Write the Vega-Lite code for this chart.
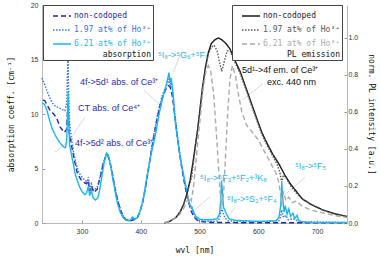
{
"$schema": "https://vega.github.io/schema/vega-lite/v6.json",
"width": 305, "height": 218,
"autosize": "none",
"padding": {"left": 42, "top": 5, "right": 33, "bottom": 33},
"background": "white",
"config": {
 "view": {"stroke": null},
 "axis": {"grid": false, "labelFont": "Liberation Sans", "labelFontSize": 7, "labelColor": "#333", "titleFont": "DejaVu Sans Mono", "titleFontSize": 8, "titleFontWeight": "normal", "titleColor": "#111", "domainColor": "#bbb", "tickColor": "#999", "tickSize": -3},
 "legend": {"labelFont": "DejaVu Sans Mono", "labelFontSize": 8, "titleFont": "DejaVu Sans Mono", "titleFontSize": 8, "titleFontWeight": "normal", "titleColor": "#111"}
},
"datasets": {
 "abs": [
  {"s":"non-codoped","wvl":234,"v":11.3},{"s":"non-codoped","wvl":237,"v":11.2},{"s":"non-codoped","wvl":241,"v":10.8},{"s":"non-codoped","wvl":246,"v":10.3},{"s":"non-codoped","wvl":252,"v":10.0},{"s":"non-codoped","wvl":257,"v":9.6},{"s":"non-codoped","wvl":263,"v":8.8},{"s":"non-codoped","wvl":270,"v":8.3},{"s":"non-codoped","wvl":274,"v":8.6},{"s":"non-codoped","wvl":276,"v":11.0},{"s":"non-codoped","wvl":278,"v":8.4},{"s":"non-codoped","wvl":282,"v":7.2},{"s":"non-codoped","wvl":287,"v":5.8},{"s":"non-codoped","wvl":292,"v":4.6},{"s":"non-codoped","wvl":298,"v":4.0},{"s":"non-codoped","wvl":304,"v":3.7},{"s":"non-codoped","wvl":308,"v":3.6},{"s":"non-codoped","wvl":311,"v":3.9},{"s":"non-codoped","wvl":313,"v":2.9},{"s":"non-codoped","wvl":316,"v":3.4},{"s":"non-codoped","wvl":320,"v":2.8},{"s":"non-codoped","wvl":326,"v":3.1},{"s":"non-codoped","wvl":331,"v":4.2},{"s":"non-codoped","wvl":336,"v":5.4},{"s":"non-codoped","wvl":341,"v":6.2},{"s":"non-codoped","wvl":344,"v":6.2},{"s":"non-codoped","wvl":348,"v":5.5},{"s":"non-codoped","wvl":352,"v":4.4},{"s":"non-codoped","wvl":356,"v":3.2},{"s":"non-codoped","wvl":361,"v":2.0},{"s":"non-codoped","wvl":366,"v":1.1},{"s":"non-codoped","wvl":371,"v":0.5},{"s":"non-codoped","wvl":376,"v":0.25},{"s":"non-codoped","wvl":382,"v":0.2},{"s":"non-codoped","wvl":388,"v":0.3},{"s":"non-codoped","wvl":393,"v":0.4},{"s":"non-codoped","wvl":398,"v":0.9},{"s":"non-codoped","wvl":403,"v":1.8},{"s":"non-codoped","wvl":408,"v":3.2},{"s":"non-codoped","wvl":413,"v":4.9},{"s":"non-codoped","wvl":418,"v":6.6},{"s":"non-codoped","wvl":423,"v":8.2},{"s":"non-codoped","wvl":428,"v":9.6},{"s":"non-codoped","wvl":433,"v":10.8},{"s":"non-codoped","wvl":438,"v":11.7},{"s":"non-codoped","wvl":443,"v":12.3},{"s":"non-codoped","wvl":447,"v":12.6},{"s":"non-codoped","wvl":450,"v":12.5},{"s":"non-codoped","wvl":454,"v":11.6},{"s":"non-codoped","wvl":458,"v":9.8},{"s":"non-codoped","wvl":462,"v":8.0},{"s":"non-codoped","wvl":466,"v":6.4},{"s":"non-codoped","wvl":470,"v":5.0},{"s":"non-codoped","wvl":475,"v":3.5},{"s":"non-codoped","wvl":480,"v":2.2},{"s":"non-codoped","wvl":485,"v":1.2},{"s":"non-codoped","wvl":490,"v":0.6},{"s":"non-codoped","wvl":495,"v":0.3},{"s":"non-codoped","wvl":500,"v":0.15},{"s":"non-codoped","wvl":520,"v":0.05},{"s":"non-codoped","wvl":560,"v":0.03},{"s":"non-codoped","wvl":751,"v":0.02},
  {"s":"1.97 at% of Ho³⁺","wvl":232,"v":13.3},{"s":"1.97 at% of Ho³⁺","wvl":236,"v":12.8},{"s":"1.97 at% of Ho³⁺","wvl":240,"v":12.2},{"s":"1.97 at% of Ho³⁺","wvl":245,"v":11.5},{"s":"1.97 at% of Ho³⁺","wvl":250,"v":11.0},{"s":"1.97 at% of Ho³⁺","wvl":255,"v":10.7},{"s":"1.97 at% of Ho³⁺","wvl":260,"v":10.6},{"s":"1.97 at% of Ho³⁺","wvl":266,"v":10.4},{"s":"1.97 at% of Ho³⁺","wvl":271,"v":10.3},{"s":"1.97 at% of Ho³⁺","wvl":274,"v":11.0},{"s":"1.97 at% of Ho³⁺","wvl":275.5,"v":14.0},{"s":"1.97 at% of Ho³⁺","wvl":276.3,"v":15.6},{"s":"1.97 at% of Ho³⁺","wvl":277.3,"v":12.0},{"s":"1.97 at% of Ho³⁺","wvl":279,"v":9.2},{"s":"1.97 at% of Ho³⁺","wvl":282,"v":7.8},{"s":"1.97 at% of Ho³⁺","wvl":286,"v":6.4},{"s":"1.97 at% of Ho³⁺","wvl":290,"v":5.4},{"s":"1.97 at% of Ho³⁺","wvl":295,"v":4.6},{"s":"1.97 at% of Ho³⁺","wvl":300,"v":4.2},{"s":"1.97 at% of Ho³⁺","wvl":305,"v":3.9},{"s":"1.97 at% of Ho³⁺","wvl":309,"v":3.8},{"s":"1.97 at% of Ho³⁺","wvl":311,"v":4.2},{"s":"1.97 at% of Ho³⁺","wvl":313,"v":3.1},{"s":"1.97 at% of Ho³⁺","wvl":316,"v":3.6},{"s":"1.97 at% of Ho³⁺","wvl":320,"v":3.0},{"s":"1.97 at% of Ho³⁺","wvl":326,"v":3.3},{"s":"1.97 at% of Ho³⁺","wvl":331,"v":4.3},{"s":"1.97 at% of Ho³⁺","wvl":336,"v":5.5},{"s":"1.97 at% of Ho³⁺","wvl":341,"v":6.3},{"s":"1.97 at% of Ho³⁺","wvl":344,"v":6.3},{"s":"1.97 at% of Ho³⁺","wvl":348,"v":5.6},{"s":"1.97 at% of Ho³⁺","wvl":352,"v":4.5},{"s":"1.97 at% of Ho³⁺","wvl":356,"v":3.3},{"s":"1.97 at% of Ho³⁺","wvl":361,"v":2.1},{"s":"1.97 at% of Ho³⁺","wvl":366,"v":1.2},{"s":"1.97 at% of Ho³⁺","wvl":371,"v":0.6},{"s":"1.97 at% of Ho³⁺","wvl":376,"v":0.3},{"s":"1.97 at% of Ho³⁺","wvl":382,"v":0.25},{"s":"1.97 at% of Ho³⁺","wvl":387,"v":0.45},{"s":"1.97 at% of Ho³⁺","wvl":393,"v":0.45},{"s":"1.97 at% of Ho³⁺","wvl":398,"v":0.9},{"s":"1.97 at% of Ho³⁺","wvl":403,"v":1.8},{"s":"1.97 at% of Ho³⁺","wvl":408,"v":3.2},{"s":"1.97 at% of Ho³⁺","wvl":413,"v":4.9},{"s":"1.97 at% of Ho³⁺","wvl":418,"v":6.7},{"s":"1.97 at% of Ho³⁺","wvl":423,"v":8.3},{"s":"1.97 at% of Ho³⁺","wvl":428,"v":9.8},{"s":"1.97 at% of Ho³⁺","wvl":433,"v":11.0},{"s":"1.97 at% of Ho³⁺","wvl":438,"v":11.9},{"s":"1.97 at% of Ho³⁺","wvl":443,"v":12.5},{"s":"1.97 at% of Ho³⁺","wvl":446,"v":12.9},{"s":"1.97 at% of Ho³⁺","wvl":448,"v":13.2},{"s":"1.97 at% of Ho³⁺","wvl":450,"v":12.6},{"s":"1.97 at% of Ho³⁺","wvl":452,"v":12.9},{"s":"1.97 at% of Ho³⁺","wvl":455,"v":11.8},{"s":"1.97 at% of Ho³⁺","wvl":458,"v":10.1},{"s":"1.97 at% of Ho³⁺","wvl":462,"v":8.3},{"s":"1.97 at% of Ho³⁺","wvl":466,"v":6.6},{"s":"1.97 at% of Ho³⁺","wvl":470,"v":5.1},{"s":"1.97 at% of Ho³⁺","wvl":475,"v":3.6},{"s":"1.97 at% of Ho³⁺","wvl":480,"v":2.3},{"s":"1.97 at% of Ho³⁺","wvl":484,"v":1.5},{"s":"1.97 at% of Ho³⁺","wvl":487,"v":1.3},{"s":"1.97 at% of Ho³⁺","wvl":490,"v":0.8},{"s":"1.97 at% of Ho³⁺","wvl":495,"v":0.4},{"s":"1.97 at% of Ho³⁺","wvl":500,"v":0.2},{"s":"1.97 at% of Ho³⁺","wvl":520,"v":0.15},{"s":"1.97 at% of Ho³⁺","wvl":532,"v":0.2},{"s":"1.97 at% of Ho³⁺","wvl":535,"v":0.6},{"s":"1.97 at% of Ho³⁺","wvl":537.5,"v":1.4},{"s":"1.97 at% of Ho³⁺","wvl":540,"v":1.0},{"s":"1.97 at% of Ho³⁺","wvl":543,"v":0.5},{"s":"1.97 at% of Ho³⁺","wvl":548,"v":0.2},{"s":"1.97 at% of Ho³⁺","wvl":600,"v":0.1},{"s":"1.97 at% of Ho³⁺","wvl":635,"v":0.2},{"s":"1.97 at% of Ho³⁺","wvl":638,"v":0.6},{"s":"1.97 at% of Ho³⁺","wvl":640,"v":1.2},{"s":"1.97 at% of Ho³⁺","wvl":643,"v":0.5},{"s":"1.97 at% of Ho³⁺","wvl":647,"v":0.7},{"s":"1.97 at% of Ho³⁺","wvl":651,"v":0.3},{"s":"1.97 at% of Ho³⁺","wvl":659,"v":0.4},{"s":"1.97 at% of Ho³⁺","wvl":670,"v":0.1},{"s":"1.97 at% of Ho³⁺","wvl":751,"v":0.05},
  {"s":"6.21 at% of Ho³⁺","wvl":232,"v":11.0},{"s":"6.21 at% of Ho³⁺","wvl":236,"v":10.9},{"s":"6.21 at% of Ho³⁺","wvl":240,"v":10.4},{"s":"6.21 at% of Ho³⁺","wvl":244,"v":9.6},{"s":"6.21 at% of Ho³⁺","wvl":249,"v":8.7},{"s":"6.21 at% of Ho³⁺","wvl":255,"v":8.0},{"s":"6.21 at% of Ho³⁺","wvl":262,"v":7.4},{"s":"6.21 at% of Ho³⁺","wvl":268,"v":7.0},{"s":"6.21 at% of Ho³⁺","wvl":272,"v":6.9},{"s":"6.21 at% of Ho³⁺","wvl":274,"v":7.6},{"s":"6.21 at% of Ho³⁺","wvl":275.5,"v":10.0},{"s":"6.21 at% of Ho³⁺","wvl":276.5,"v":12.0},{"s":"6.21 at% of Ho³⁺","wvl":277.5,"v":9.5},{"s":"6.21 at% of Ho³⁺","wvl":279,"v":7.2},{"s":"6.21 at% of Ho³⁺","wvl":282,"v":6.3},{"s":"6.21 at% of Ho³⁺","wvl":285,"v":5.5},{"s":"6.21 at% of Ho³⁺","wvl":288,"v":4.6},{"s":"6.21 at% of Ho³⁺","wvl":292,"v":3.9},{"s":"6.21 at% of Ho³⁺","wvl":296,"v":3.3},{"s":"6.21 at% of Ho³⁺","wvl":300,"v":2.9},{"s":"6.21 at% of Ho³⁺","wvl":305,"v":2.6},{"s":"6.21 at% of Ho³⁺","wvl":308,"v":2.8},{"s":"6.21 at% of Ho³⁺","wvl":311,"v":3.4},{"s":"6.21 at% of Ho³⁺","wvl":313,"v":2.5},{"s":"6.21 at% of Ho³⁺","wvl":316,"v":3.0},{"s":"6.21 at% of Ho³⁺","wvl":319,"v":2.3},{"s":"6.21 at% of Ho³⁺","wvl":323,"v":2.1},{"s":"6.21 at% of Ho³⁺","wvl":327,"v":2.3},{"s":"6.21 at% of Ho³⁺","wvl":330,"v":3.0},{"s":"6.21 at% of Ho³⁺","wvl":334,"v":4.3},{"s":"6.21 at% of Ho³⁺","wvl":338,"v":5.6},{"s":"6.21 at% of Ho³⁺","wvl":342,"v":6.4},{"s":"6.21 at% of Ho³⁺","wvl":345,"v":6.2},{"s":"6.21 at% of Ho³⁺","wvl":348,"v":5.4},{"s":"6.21 at% of Ho³⁺","wvl":352,"v":4.2},{"s":"6.21 at% of Ho³⁺","wvl":356,"v":3.0},{"s":"6.21 at% of Ho³⁺","wvl":360,"v":1.9},{"s":"6.21 at% of Ho³⁺","wvl":365,"v":1.0},{"s":"6.21 at% of Ho³⁺","wvl":370,"v":0.5},{"s":"6.21 at% of Ho³⁺","wvl":375,"v":0.25},{"s":"6.21 at% of Ho³⁺","wvl":381,"v":0.2},{"s":"6.21 at% of Ho³⁺","wvl":386,"v":0.55},{"s":"6.21 at% of Ho³⁺","wvl":390,"v":0.35},{"s":"6.21 at% of Ho³⁺","wvl":395,"v":0.5},{"s":"6.21 at% of Ho³⁺","wvl":400,"v":1.3},{"s":"6.21 at% of Ho³⁺","wvl":405,"v":2.4},{"s":"6.21 at% of Ho³⁺","wvl":410,"v":4.1},{"s":"6.21 at% of Ho³⁺","wvl":415,"v":5.6},{"s":"6.21 at% of Ho³⁺","wvl":420,"v":6.9},{"s":"6.21 at% of Ho³⁺","wvl":424,"v":7.8},{"s":"6.21 at% of Ho³⁺","wvl":428,"v":9.0},{"s":"6.21 at% of Ho³⁺","wvl":432,"v":10.2},{"s":"6.21 at% of Ho³⁺","wvl":437,"v":11.4},{"s":"6.21 at% of Ho³⁺","wvl":441,"v":12.2},{"s":"6.21 at% of Ho³⁺","wvl":444,"v":12.8},{"s":"6.21 at% of Ho³⁺","wvl":446,"v":13.3},{"s":"6.21 at% of Ho³⁺","wvl":448,"v":13.8},{"s":"6.21 at% of Ho³⁺","wvl":450,"v":12.9},{"s":"6.21 at% of Ho³⁺","wvl":452,"v":13.3},{"s":"6.21 at% of Ho³⁺","wvl":454,"v":12.4},{"s":"6.21 at% of Ho³⁺","wvl":456,"v":11.2},{"s":"6.21 at% of Ho³⁺","wvl":458,"v":9.6},{"s":"6.21 at% of Ho³⁺","wvl":461,"v":8.3},{"s":"6.21 at% of Ho³⁺","wvl":465,"v":6.8},{"s":"6.21 at% of Ho³⁺","wvl":470,"v":5.2},{"s":"6.21 at% of Ho³⁺","wvl":475,"v":3.9},{"s":"6.21 at% of Ho³⁺","wvl":480,"v":2.5},{"s":"6.21 at% of Ho³⁺","wvl":484,"v":1.6},{"s":"6.21 at% of Ho³⁺","wvl":487,"v":1.5},{"s":"6.21 at% of Ho³⁺","wvl":490,"v":1.0},{"s":"6.21 at% of Ho³⁺","wvl":494,"v":0.6},{"s":"6.21 at% of Ho³⁺","wvl":500,"v":0.35},{"s":"6.21 at% of Ho³⁺","wvl":510,"v":0.3},{"s":"6.21 at% of Ho³⁺","wvl":520,"v":0.3},{"s":"6.21 at% of Ho³⁺","wvl":530,"v":0.4},{"s":"6.21 at% of Ho³⁺","wvl":534,"v":0.8},{"s":"6.21 at% of Ho³⁺","wvl":536,"v":2.0},{"s":"6.21 at% of Ho³⁺","wvl":537.5,"v":3.9},{"s":"6.21 at% of Ho³⁺","wvl":539,"v":2.8},{"s":"6.21 at% of Ho³⁺","wvl":541,"v":1.4},{"s":"6.21 at% of Ho³⁺","wvl":543,"v":1.2},{"s":"6.21 at% of Ho³⁺","wvl":546,"v":0.8},{"s":"6.21 at% of Ho³⁺","wvl":550,"v":0.4},{"s":"6.21 at% of Ho³⁺","wvl":560,"v":0.25},{"s":"6.21 at% of Ho³⁺","wvl":600,"v":0.15},{"s":"6.21 at% of Ho³⁺","wvl":630,"v":0.2},{"s":"6.21 at% of Ho³⁺","wvl":635,"v":0.5},{"s":"6.21 at% of Ho³⁺","wvl":638,"v":1.5},{"s":"6.21 at% of Ho³⁺","wvl":640,"v":3.7},{"s":"6.21 at% of Ho³⁺","wvl":642,"v":2.0},{"s":"6.21 at% of Ho³⁺","wvl":644,"v":1.0},{"s":"6.21 at% of Ho³⁺","wvl":646,"v":1.6},{"s":"6.21 at% of Ho³⁺","wvl":649,"v":0.8},{"s":"6.21 at% of Ho³⁺","wvl":652,"v":1.3},{"s":"6.21 at% of Ho³⁺","wvl":655,"v":0.6},{"s":"6.21 at% of Ho³⁺","wvl":659,"v":0.9},{"s":"6.21 at% of Ho³⁺","wvl":662,"v":0.4},{"s":"6.21 at% of Ho³⁺","wvl":666,"v":0.7},{"s":"6.21 at% of Ho³⁺","wvl":669,"v":0.2},{"s":"6.21 at% of Ho³⁺","wvl":680,"v":0.08},{"s":"6.21 at% of Ho³⁺","wvl":700,"v":0.05},{"s":"6.21 at% of Ho³⁺","wvl":751,"v":0.05}
 ],
 "pl": [
  {"s":"non-codoped","wvl":440,"p":0},{"s":"non-codoped","wvl":450,"p":0.01},{"s":"non-codoped","wvl":460,"p":0.03},{"s":"non-codoped","wvl":467,"p":0.06},{"s":"non-codoped","wvl":473,"p":0.1},{"s":"non-codoped","wvl":478,"p":0.15},{"s":"non-codoped","wvl":484,"p":0.23},{"s":"non-codoped","wvl":489,"p":0.33},{"s":"non-codoped","wvl":493,"p":0.42},{"s":"non-codoped","wvl":497,"p":0.51},{"s":"non-codoped","wvl":501,"p":0.62},{"s":"non-codoped","wvl":505,"p":0.73},{"s":"non-codoped","wvl":510,"p":0.84},{"s":"non-codoped","wvl":515,"p":0.92},{"s":"non-codoped","wvl":520,"p":0.97},{"s":"non-codoped","wvl":526,"p":0.99},{"s":"non-codoped","wvl":532,"p":1.0},{"s":"non-codoped","wvl":538,"p":0.99},{"s":"non-codoped","wvl":545,"p":0.97},{"s":"non-codoped","wvl":552,"p":0.94},{"s":"non-codoped","wvl":560,"p":0.88},{"s":"non-codoped","wvl":569,"p":0.82},{"s":"non-codoped","wvl":578,"p":0.74},{"s":"non-codoped","wvl":588,"p":0.65},{"s":"non-codoped","wvl":598,"p":0.56},{"s":"non-codoped","wvl":606,"p":0.49},{"s":"non-codoped","wvl":615,"p":0.43},{"s":"non-codoped","wvl":625,"p":0.37},{"s":"non-codoped","wvl":635,"p":0.32},{"s":"non-codoped","wvl":645,"p":0.26},{"s":"non-codoped","wvl":655,"p":0.21},{"s":"non-codoped","wvl":665,"p":0.17},{"s":"non-codoped","wvl":675,"p":0.13},{"s":"non-codoped","wvl":690,"p":0.1},{"s":"non-codoped","wvl":710,"p":0.07},{"s":"non-codoped","wvl":730,"p":0.05},{"s":"non-codoped","wvl":751,"p":0.035},
  {"s":"1.97 at% of Ho³⁺","wvl":440,"p":0},{"s":"1.97 at% of Ho³⁺","wvl":450,"p":0.01},{"s":"1.97 at% of Ho³⁺","wvl":460,"p":0.03},{"s":"1.97 at% of Ho³⁺","wvl":467,"p":0.06},{"s":"1.97 at% of Ho³⁺","wvl":473,"p":0.1},{"s":"1.97 at% of Ho³⁺","wvl":478,"p":0.15},{"s":"1.97 at% of Ho³⁺","wvl":484,"p":0.22},{"s":"1.97 at% of Ho³⁺","wvl":487,"p":0.25},{"s":"1.97 at% of Ho³⁺","wvl":489,"p":0.31},{"s":"1.97 at% of Ho³⁺","wvl":493,"p":0.41},{"s":"1.97 at% of Ho³⁺","wvl":497,"p":0.5},{"s":"1.97 at% of Ho³⁺","wvl":501,"p":0.61},{"s":"1.97 at% of Ho³⁺","wvl":505,"p":0.72},{"s":"1.97 at% of Ho³⁺","wvl":510,"p":0.83},{"s":"1.97 at% of Ho³⁺","wvl":515,"p":0.91},{"s":"1.97 at% of Ho³⁺","wvl":520,"p":0.95},{"s":"1.97 at% of Ho³⁺","wvl":525,"p":0.96},{"s":"1.97 at% of Ho³⁺","wvl":530,"p":0.93},{"s":"1.97 at% of Ho³⁺","wvl":534,"p":0.87},{"s":"1.97 at% of Ho³⁺","wvl":538,"p":0.82},{"s":"1.97 at% of Ho³⁺","wvl":542,"p":0.87},{"s":"1.97 at% of Ho³⁺","wvl":547,"p":0.93},{"s":"1.97 at% of Ho³⁺","wvl":552,"p":0.93},{"s":"1.97 at% of Ho³⁺","wvl":560,"p":0.87},{"s":"1.97 at% of Ho³⁺","wvl":569,"p":0.81},{"s":"1.97 at% of Ho³⁺","wvl":578,"p":0.73},{"s":"1.97 at% of Ho³⁺","wvl":588,"p":0.64},{"s":"1.97 at% of Ho³⁺","wvl":598,"p":0.55},{"s":"1.97 at% of Ho³⁺","wvl":606,"p":0.48},{"s":"1.97 at% of Ho³⁺","wvl":615,"p":0.42},{"s":"1.97 at% of Ho³⁺","wvl":625,"p":0.36},{"s":"1.97 at% of Ho³⁺","wvl":633,"p":0.31},{"s":"1.97 at% of Ho³⁺","wvl":637,"p":0.27},{"s":"1.97 at% of Ho³⁺","wvl":640,"p":0.22},{"s":"1.97 at% of Ho³⁺","wvl":643,"p":0.26},{"s":"1.97 at% of Ho³⁺","wvl":648,"p":0.24},{"s":"1.97 at% of Ho³⁺","wvl":655,"p":0.2},{"s":"1.97 at% of Ho³⁺","wvl":665,"p":0.16},{"s":"1.97 at% of Ho³⁺","wvl":675,"p":0.13},{"s":"1.97 at% of Ho³⁺","wvl":690,"p":0.1},{"s":"1.97 at% of Ho³⁺","wvl":710,"p":0.07},{"s":"1.97 at% of Ho³⁺","wvl":730,"p":0.05},{"s":"1.97 at% of Ho³⁺","wvl":751,"p":0.035},
  {"s":"6.21 at% of Ho³⁺","wvl":440,"p":0},{"s":"6.21 at% of Ho³⁺","wvl":450,"p":0.01},{"s":"6.21 at% of Ho³⁺","wvl":465,"p":0.04},{"s":"6.21 at% of Ho³⁺","wvl":475,"p":0.09},{"s":"6.21 at% of Ho³⁺","wvl":482,"p":0.14},{"s":"6.21 at% of Ho³⁺","wvl":486,"p":0.12},{"s":"6.21 at% of Ho³⁺","wvl":490,"p":0.2},{"s":"6.21 at% of Ho³⁺","wvl":496,"p":0.4},{"s":"6.21 at% of Ho³⁺","wvl":501,"p":0.56},{"s":"6.21 at% of Ho³⁺","wvl":506,"p":0.72},{"s":"6.21 at% of Ho³⁺","wvl":511,"p":0.82},{"s":"6.21 at% of Ho³⁺","wvl":515,"p":0.85},{"s":"6.21 at% of Ho³⁺","wvl":519,"p":0.82},{"s":"6.21 at% of Ho³⁺","wvl":524,"p":0.7},{"s":"6.21 at% of Ho³⁺","wvl":528,"p":0.52},{"s":"6.21 at% of Ho³⁺","wvl":532,"p":0.32},{"s":"6.21 at% of Ho³⁺","wvl":535,"p":0.17},{"s":"6.21 at% of Ho³⁺","wvl":538,"p":0.09},{"s":"6.21 at% of Ho³⁺","wvl":541,"p":0.16},{"s":"6.21 at% of Ho³⁺","wvl":544,"p":0.34},{"s":"6.21 at% of Ho³⁺","wvl":548,"p":0.6},{"s":"6.21 at% of Ho³⁺","wvl":552,"p":0.78},{"s":"6.21 at% of Ho³⁺","wvl":556,"p":0.85},{"s":"6.21 at% of Ho³⁺","wvl":561,"p":0.8},{"s":"6.21 at% of Ho³⁺","wvl":566,"p":0.7},{"s":"6.21 at% of Ho³⁺","wvl":572,"p":0.6},{"s":"6.21 at% of Ho³⁺","wvl":580,"p":0.53},{"s":"6.21 at% of Ho³⁺","wvl":590,"p":0.49},{"s":"6.21 at% of Ho³⁺","wvl":600,"p":0.45},{"s":"6.21 at% of Ho³⁺","wvl":610,"p":0.39},{"s":"6.21 at% of Ho³⁺","wvl":620,"p":0.33},{"s":"6.21 at% of Ho³⁺","wvl":630,"p":0.27},{"s":"6.21 at% of Ho³⁺","wvl":635,"p":0.22},{"s":"6.21 at% of Ho³⁺","wvl":638,"p":0.15},{"s":"6.21 at% of Ho³⁺","wvl":640,"p":0.09},{"s":"6.21 at% of Ho³⁺","wvl":643,"p":0.17},{"s":"6.21 at% of Ho³⁺","wvl":647,"p":0.12},{"s":"6.21 at% of Ho³⁺","wvl":652,"p":0.14},{"s":"6.21 at% of Ho³⁺","wvl":658,"p":0.11},{"s":"6.21 at% of Ho³⁺","wvl":665,"p":0.12},{"s":"6.21 at% of Ho³⁺","wvl":675,"p":0.09},{"s":"6.21 at% of Ho³⁺","wvl":690,"p":0.07},{"s":"6.21 at% of Ho³⁺","wvl":710,"p":0.055},{"s":"6.21 at% of Ho³⁺","wvl":730,"p":0.04},{"s":"6.21 at% of Ho³⁺","wvl":751,"p":0.03}
 ],
 "notes": [
  {"t":"4f->5d¹ abs. of Ce³⁺","wvl":296.6,"v":12.94,"k":"Ce"},
  {"t":"CT abs. of Ce⁴⁺","wvl":293.2,"v":10.55,"k":"Ce"},
  {"t":"4f->5d² abs. of Ce³⁺","wvl":288.1,"v":7.34,"k":"Ce"},
  {"t":"⁵I₈->⁵G₆+⁵F₁","wvl":429.3,"v":15.4,"k":"Ho"},
  {"t":"5d¹->4f em. of Ce³⁺","wvl":572.3,"v":14.0,"k":"em"},
  {"t":"exc. 440 nm","wvl":614.9,"v":12.94,"k":"em"},
  {"t":"⁵I₈->⁵F₃+⁵F₂+³K₈","wvl":500.8,"v":4.13,"k":"Ho"},
  {"t":"⁵I₈->⁵S₂+⁵F₄","wvl":546.8,"v":2.2,"k":"Ho"},
  {"t":"⁵I₈->⁵F₅","wvl":662.5,"v":5.23,"k":"Ho"}
 ],
 "leaders": [
  {"wvl":405,"wvl2":440,"v":12.2,"v2":10.5},
  {"wvl":305,"wvl2":283,"v":9.7,"v2":7.9},
  {"wvl":284.7,"wvl2":254,"v":7.8,"v2":6.5},
  {"wvl":467,"wvl2":455,"v":15.4,"v2":13.8},
  {"wvl":608,"wvl2":574,"v":12.8,"v2":11.3},
  {"wvl":518,"wvl2":487,"v":2.4,"v2":1.0},
  {"wvl":560,"wvl2":548,"v":1.4,"v2":0.55},
  {"wvl":680,"wvl2":645.5,"v":4.2,"v2":2.6}
 ]
},
"resolve": {"scale": {"y": "independent", "color": "independent", "strokeDash": "independent"}},
"layer": [
 {
  "data": {"name": "leaders"},
  "mark": {"type": "rule", "color": "#cfcfcf", "strokeWidth": 0.8},
  "encoding": {
   "x": {"field": "wvl", "type": "quantitative", "scale": {"domain": [232, 751], "nice": false, "zero": false}},
   "x2": {"field": "wvl2"},
   "y": {"field": "v", "type": "quantitative", "scale": {"domain": [0, 20], "nice": false}, "axis": null},
   "y2": {"field": "v2"}
  }
 },
 {
  "data": {"name": "abs"},
  "mark": {"type": "line", "strokeWidth": 1.4},
  "encoding": {
   "x": {"field": "wvl", "type": "quantitative", "scale": {"domain": [232, 751], "nice": false, "zero": false},
         "axis": {"title": "wvl [nm]", "values": [300, 400, 500, 600, 700], "labelPadding": 7, "titlePadding": 12}},
   "y": {"field": "v", "type": "quantitative", "scale": {"domain": [0, 20], "nice": false},
         "axis": {"orient": "left", "title": "absorption coeff. [cm⁻¹]", "values": [0, 5, 10, 15, 20], "labelPadding": 7, "titlePadding": 15}},
   "color": {"field": "s", "type": "nominal", "sort": null,
     "scale": {"domain": ["non-codoped", "1.97 at% of Ho³⁺", "6.21 at% of Ho³⁺"], "range": ["#25259e", "#3572e2", "#1cb6ee"]},
     "legend": {"title": "absorption", "orient": "none", "legendX": 1, "legendY": 0, "direction": "vertical", "titleOrient": "bottom", "titleAnchor": "end", "symbolType": "stroke", "symbolSize": 324, "symbolStrokeWidth": 1.5, "symbolOffset": 8, "rowPadding": -4, "labelOffset": 2, "padding": 1, "titlePadding": 3, "strokeColor": "#444", "fillColor": "white",
       "labelColor": {"expr": "datum.value == 'non-codoped' ? '#25259e' : datum.value == '1.97 at% of Ho³⁺' ? '#3572e2' : '#1cb6ee'"}}},
   "strokeDash": {"field": "s", "type": "nominal", "sort": null,
     "scale": {"domain": ["non-codoped", "1.97 at% of Ho³⁺", "6.21 at% of Ho³⁺"], "range": [[5, 3], [1.5, 1.5], [1, 0]]},
     "legend": {"title": "absorption"}}
  }
 },
 {
  "data": {"name": "pl"},
  "mark": {"type": "line", "strokeWidth": 1.4},
  "encoding": {
   "x": {"field": "wvl", "type": "quantitative", "scale": {"domain": [232, 751], "nice": false, "zero": false}},
   "y": {"field": "p", "type": "quantitative", "scale": {"domain": [0, 1.178], "nice": false},
         "axis": {"orient": "right", "title": "norm. PL intensity [a.u.]", "values": [0, 0.2, 0.4, 0.6, 0.8, 1.0], "format": ".1f", "labelPadding": 4, "titlePadding": 9}},
   "color": {"field": "s", "type": "nominal", "sort": null,
     "scale": {"domain": ["non-codoped", "1.97 at% of Ho³⁺", "6.21 at% of Ho³⁺"], "range": ["#1a1a1a", "#555555", "#aaaaaa"]},
     "legend": {"title": "PL emission", "orient": "none", "legendX": 190, "legendY": 0, "direction": "vertical", "titleOrient": "bottom", "titleAnchor": "end", "symbolType": "stroke", "symbolSize": 324, "symbolStrokeWidth": 1.5, "symbolOffset": 8, "rowPadding": -4, "labelOffset": 2, "padding": 1, "titlePadding": 3, "strokeColor": "#444", "fillColor": "white",
       "labelColor": {"expr": "datum.value == 'non-codoped' ? '#1a1a1a' : datum.value == '1.97 at% of Ho³⁺' ? '#555555' : '#aaaaaa'"}}},
   "strokeDash": {"field": "s", "type": "nominal", "sort": null,
     "scale": {"domain": ["non-codoped", "1.97 at% of Ho³⁺", "6.21 at% of Ho³⁺"], "range": [[1, 0], [1.5, 1.5], [5, 3]]},
     "legend": {"title": "PL emission"}}
  }
 },
 {
  "data": {"name": "notes"},
  "mark": {"type": "text", "font": "Liberation Sans", "fontSize": 9, "align": "left", "baseline": "middle"},
  "encoding": {
   "x": {"field": "wvl", "type": "quantitative", "scale": {"domain": [232, 751], "nice": false, "zero": false}},
   "y": {"field": "v", "type": "quantitative", "scale": {"domain": [0, 20], "nice": false}, "axis": null},
   "text": {"field": "t"},
   "color": {"field": "k", "type": "nominal", "scale": {"domain": ["Ce", "Ho", "em"], "range": ["#2c2cb0", "#1cb6ee", "#111111"]}, "legend": null}
  }
 }
]
}
